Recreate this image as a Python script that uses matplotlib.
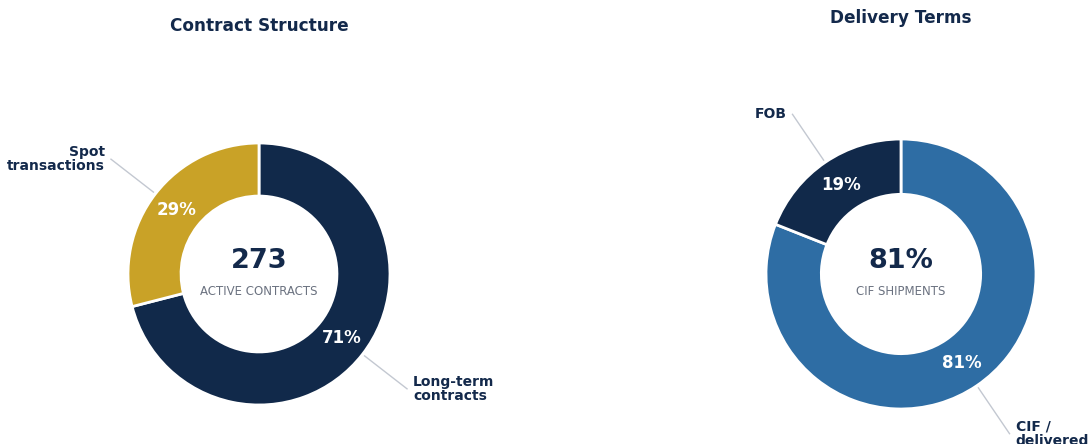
import numpy as np
import matplotlib
matplotlib.use('Agg')
from matplotlib import pyplot as plt

# contract structure
contract_labels = ['Long-term\ncontracts', 'Spot\ntransactions']
contract_values = [71, 29]
contract_total = 273

# delivery terms
delivery_labels = ['CIF /\ndelivered', 'FOB']
delivery_values = [81, 19]

NAVY = '#11294a'
GOLD = '#c9a227'
BLUE = '#2e6da4'
TEXT = '#13294b'
GREY = '#6b7280'
LINE = '#c3c8d1'

W, H = 1089, 444
fig = plt.figure(figsize=(W / 100, H / 100), dpi=100)


def donut(cx, cy, r_px, values, labels, colors, title, title_y, big, small, hole):
    s = 170
    ax = fig.add_axes([(cx - s) / W, (H - cy - s) / H, 2 * s / W, 2 * s / H])
    lim = s / r_px
    wedges, _ = ax.pie(values, colors=colors, startangle=90, counterclock=False,
                       radius=1, wedgeprops=dict(width=1 - hole, edgecolor='white', linewidth=2))
    ax.set_xlim(-lim, lim)
    ax.set_ylim(-lim, lim)
    ax.set_aspect('equal')
    ax.axis('off')
    for w, v, lab in zip(wedges, values, labels):
        ang = np.deg2rad((w.theta1 + w.theta2) / 2)
        rm = (1 + hole) / 2
        ax.text(rm * np.cos(ang), rm * np.sin(ang), f'{v}%', ha='center', va='center',
                color='white', fontsize=12, fontweight='bold')
        c, sn = np.cos(ang), np.sin(ang)
        ax.plot([1.02 * c, 1.43 * c], [1.02 * sn, 1.43 * sn], color=LINE, lw=1, clip_on=False)
        ha = 'left' if c > 0 else 'right'
        ax.text(1.43 * c + (0.045 if c > 0 else -0.045), 1.43 * sn, lab, ha=ha, va='center',
                color=TEXT, fontsize=10, fontweight='bold', linespacing=1.05, clip_on=False)
    ax.text(0, 0.1, big, ha='center', va='center', color=TEXT, fontsize=19.5, fontweight='bold')
    ax.text(0, -0.13, small, ha='center', va='center', color=GREY, fontsize=8.5)
    fig.text(cx / W, 1 - title_y / H, title, ha='center', va='center', color=TEXT,
             fontsize=12.2, fontweight='bold')


donut(259, 274, 131, contract_values, contract_labels, [NAVY, GOLD],
      'Contract Structure', 26, str(contract_total), 'ACTIVE CONTRACTS', 0.595)
donut(901, 274, 135, delivery_values, delivery_labels, [BLUE, NAVY],
      'Delivery Terms', 18, f'{delivery_values[0]}%', 'CIF SHIPMENTS', 0.59)

fig.savefig('out.png', dpi=100, facecolor='white')
